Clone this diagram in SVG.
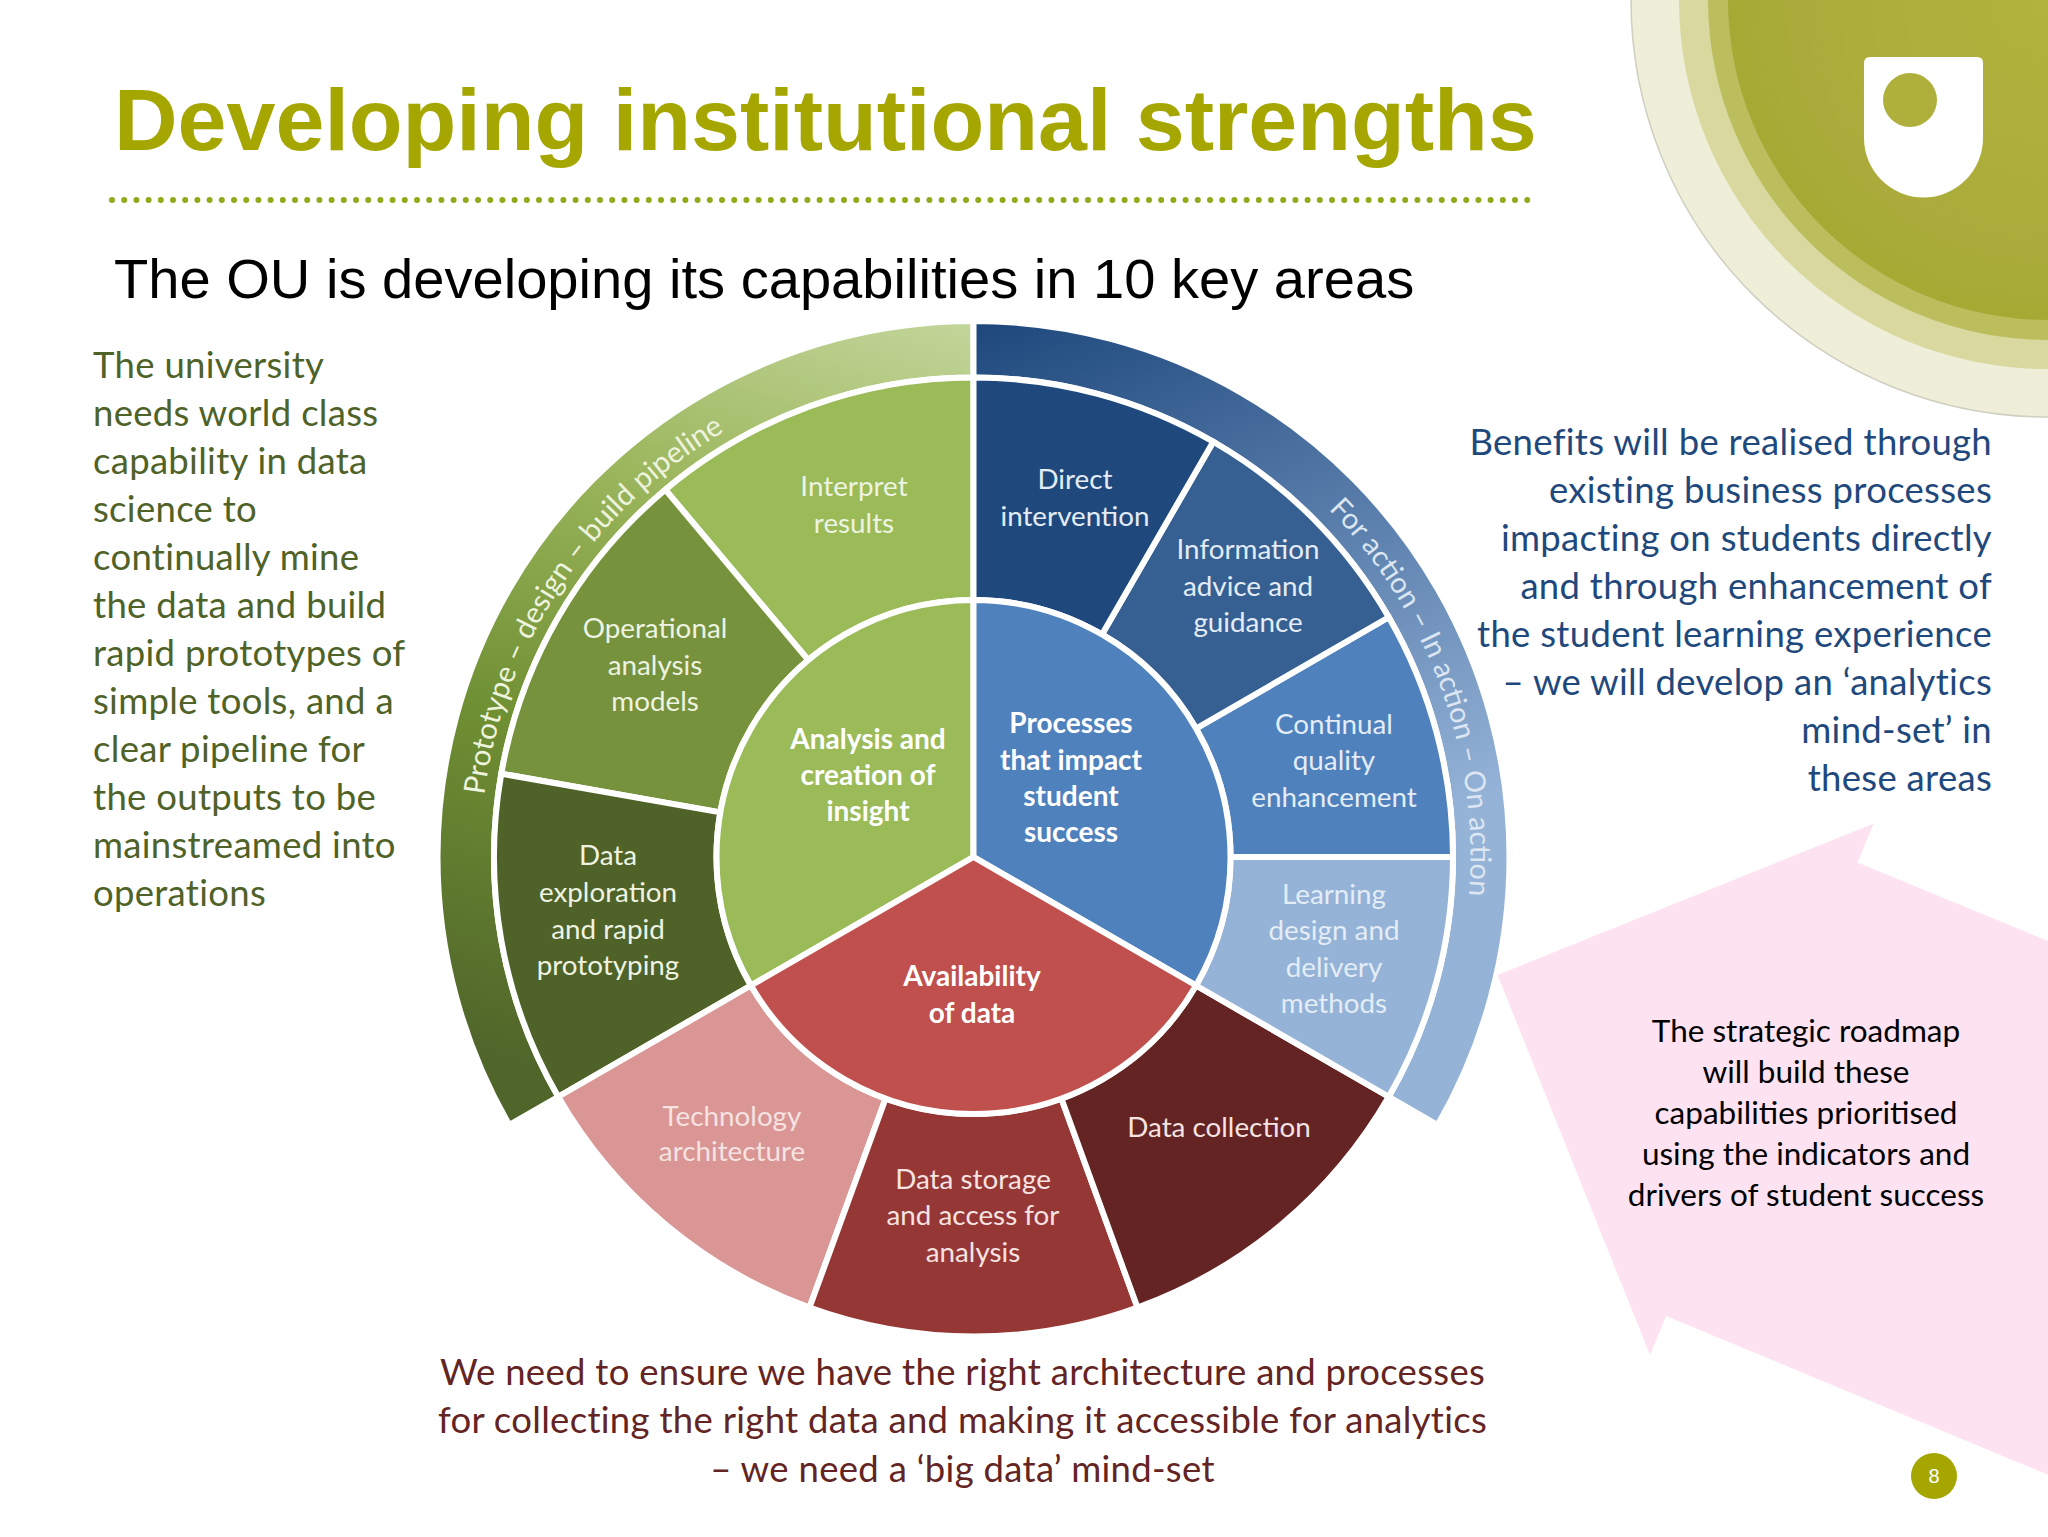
<svg xmlns="http://www.w3.org/2000/svg" xmlns:xlink="http://www.w3.org/1999/xlink" width="2048" height="1537" viewBox="0 0 2048 1537">
<style>
text{font-family:"Lato","Carlito","Open Sans",sans-serif}
.ar{font-family:"Liberation Sans",Arial,sans-serif}
.w{stroke:#fff;stroke-width:6;stroke-linejoin:miter}
.l{font-size:27.800px;text-anchor:middle;fill:#eef3e2}
.lp{fill:#f5e3e2}
.lb{fill:#e4ecf6}
.b{font-size:28px;font-weight:700;text-anchor:middle;fill:#fff}
.para{font-size:36.500px;letter-spacing:.3px}
.green{fill:#4f6228}
.blue{fill:#1f497d;text-anchor:end}
.red{fill:#632423;text-anchor:middle}
.pk{font-size:31.500px;fill:#000;text-anchor:middle}
</style>
<defs>
<linearGradient id="gb" gradientUnits="userSpaceOnUse" x1="973" y1="320" x2="700" y2="1127">
<stop offset="0" stop-color="#c3d69b"/><stop offset=".3" stop-color="#9bb65c"/><stop offset=".62" stop-color="#6f8f33"/><stop offset="1" stop-color="#50652a"/>
</linearGradient>
<linearGradient id="bb" gradientUnits="userSpaceOnUse" x1="1000" y1="320" x2="1350" y2="1127">
<stop offset="0" stop-color="#1f497d"/><stop offset=".4" stop-color="#5f83b0"/><stop offset=".72" stop-color="#95b3d7"/><stop offset="1" stop-color="#95b3d7"/>
</linearGradient>
<radialGradient id="cg" gradientUnits="userSpaceOnUse" cx="2048" cy="0" r="320">
<stop offset="0" stop-color="#b2b33e"/><stop offset=".8" stop-color="#aaab3a"/><stop offset="1" stop-color="#a5aa34"/>
</radialGradient>
<path id="arcL" d="M484.400 795.200A493 493 0 0 1 765.150 410.200"/>
<path id="arcR" d="M1328.500 509.300A497 497 0 0 1 1459.600 960.300"/>
</defs>
<rect width="2048" height="1537" fill="#fff"/>
<g id="logo">
<circle cx="2048" cy="0" r="417" fill="#eeeed9" stroke="#cfcfc0" stroke-width="1.500"/>
<circle cx="2048" cy="0" r="369" fill="#d9d99f"/>
<circle cx="2048" cy="0" r="340" fill="#bcbe5e"/>
<circle cx="2048" cy="0" r="320" fill="url(#cg)"/>
<path d="M1870 57H1977Q1983 57 1983 63V138A59.500 59.500 0 0 1 1864 138V63Q1864 57 1870 57Z" fill="#fff"/>
<circle cx="1910" cy="100" r="27" fill="#afb03c"/>
</g>
<g id="title">
<text class="ar" x="114" y="150" font-size="88" font-weight="700" fill="#a5a700">Developing institutional strengths</text>
<line x1="112" y1="200" x2="1531" y2="200" stroke="#93a91c" stroke-width="6" stroke-linecap="round" stroke-dasharray="0 12.200"/>
<text class="ar" x="114" y="298" font-size="56.100" fill="#000">The OU is developing its capabilities in 10 key areas</text>
</g>
<g id="left-text">
<text class="para green" x="93" y="377.500">The university</text>
<text class="para green" x="93" y="425.500">needs world class</text>
<text class="para green" x="93" y="473.500">capability in data</text>
<text class="para green" x="93" y="521.500">science to</text>
<text class="para green" x="93" y="569.500">continually mine</text>
<text class="para green" x="93" y="617.500">the data and build</text>
<text class="para green" x="93" y="665.500">rapid prototypes of</text>
<text class="para green" x="93" y="713.500">simple tools, and a</text>
<text class="para green" x="93" y="761.500">clear pipeline for</text>
<text class="para green" x="93" y="809.500">the outputs to be</text>
<text class="para green" x="93" y="857.500">mainstreamed into</text>
<text class="para green" x="93" y="905.500">operations</text>
</g>
<g id="right-text">
<text class="para blue" x="1992" y="454.500">Benefits will be realised through</text>
<text class="para blue" x="1992" y="502.500">existing business processes</text>
<text class="para blue" x="1992" y="550.500">impacting on students directly</text>
<text class="para blue" x="1992" y="598.500">and through enhancement of</text>
<text class="para blue" x="1992" y="646.500">the student learning experience</text>
<text class="para blue" x="1992" y="694.500">– we will develop an ‘analytics</text>
<text class="para blue" x="1992" y="742.500">mind-set’ in</text>
<text class="para blue" x="1992" y="790.500">these areas</text>
</g>
<g id="bottom-text">
<text class="para red" x="962.500" y="1384.500">We need to ensure we have the right architecture and processes</text>
<text class="para red" x="962.500" y="1433">for collecting the right data and making it accessible for analytics</text>
<text class="para red" x="962.500" y="1481.500">– we need a ‘big data’ mind-set</text>
</g>
<g id="band-green">
<path class="w" d="M973.500 321A536 536 0 0 0 509.310 1125L558.240 1096.750A479.500 479.500 0 0 1 973.500 377.500Z" fill="url(#gb)"/>
<text font-size="29.600" fill="#eef3dd"><textPath xlink:href="#arcL" href="#arcL">Prototype – design – build pipeline</textPath></text>
</g>
<g id="band-blue">
<path class="w" d="M973.500 321A536 536 0 0 1 1437.690 1125L1388.760 1096.750A479.500 479.500 0 0 0 973.500 377.500Z" fill="url(#bb)"/>
<text font-size="28.800" fill="#dce6f2"><textPath xlink:href="#arcR" href="#arcR">For action – In action – On action</textPath></text>
</g>
<g id="arrow">
<polygon points="1497.500,975 1873.600,823.500 1857.500,862.500 2048,941 2048,1474.700 1666,1316 1650,1355" fill="#fde3f1"/>
<text class="pk" x="1806" y="1042">The strategic roadmap</text>
<text class="pk" x="1806" y="1083">will build these</text>
<text class="pk" x="1806" y="1123.500">capabilities prioritised</text>
<text class="pk" x="1806" y="1164.500">using the indicators and</text>
<text class="pk" x="1806" y="1205.500">drivers of student success</text>
</g>
<g id="interpret">
<path class="w" d="M973.500 377.500A479.500 479.500 0 0 0 665.280 489.680L808.300 660.130A257 257 0 0 1 973.500 600Z" fill="#9bbb59"/>
<text class="l" x="854" y="496">Interpret</text><text class="l" x="854" y="533">results</text>
</g>
<g id="operational">
<path class="w" d="M665.280 489.680A479.500 479.500 0 0 0 501.280 773.730L720.400 812.370A257 257 0 0 1 808.300 660.130Z" fill="#76923c"/>
<text class="l" x="655" y="638">Operational</text><text class="l" x="655" y="675">analysis</text><text class="l" x="655" y="711">models</text>
</g>
<g id="exploration">
<path class="w" d="M501.280 773.730A479.500 479.500 0 0 0 558.240 1096.750L750.930 985.500A257 257 0 0 1 720.400 812.370Z" fill="#4f6228"/>
<text class="l" x="608" y="865">Data</text><text class="l" x="608" y="902">exploration</text><text class="l" x="608" y="939">and rapid</text><text class="l" x="608" y="975">prototyping</text>
</g>
<g id="technology">
<path class="w" d="M558.240 1096.750A479.500 479.500 0 0 0 809.500 1307.580L885.600 1098.500A257 257 0 0 1 750.930 985.500Z" fill="#d99694"/>
<text class="l lp" x="732" y="1126">Technology</text><text class="l lp" x="732" y="1161">architecture</text>
</g>
<g id="storage">
<path class="w" d="M809.500 1307.580A479.500 479.500 0 0 0 1137.500 1307.580L1061.400 1098.500A257 257 0 0 1 885.600 1098.500Z" fill="#953735"/>
<text class="l lp" x="973" y="1189">Data storage</text><text class="l lp" x="973" y="1225">and access for</text><text class="l lp" x="973" y="1262">analysis</text>
</g>
<g id="collection">
<path class="w" d="M1137.500 1307.580A479.500 479.500 0 0 0 1388.760 1096.750L1196.070 985.500A257 257 0 0 1 1061.400 1098.500Z" fill="#632423"/>
<text class="l lp" x="1219" y="1137">Data collection</text>
</g>
<g id="learning">
<path class="w" d="M1388.760 1096.750A479.500 479.500 0 0 0 1453 857H1230.500A257 257 0 0 1 1196.070 985.500Z" fill="#95b3d7"/>
<text class="l lb" x="1334" y="904">Learning</text><text class="l lb" x="1334" y="940">design and</text><text class="l lb" x="1334" y="977">delivery</text><text class="l lb" x="1334" y="1013">methods</text>
</g>
<g id="continual">
<path class="w" d="M1453 857A479.500 479.500 0 0 0 1388.760 617.250L1196.070 728.500A257 257 0 0 1 1230.500 857Z" fill="#4f81bd"/>
<text class="l lb" x="1334" y="734">Continual</text><text class="l lb" x="1334" y="770">quality</text><text class="l lb" x="1334" y="807">enhancement</text>
</g>
<g id="information">
<path class="w" d="M1388.760 617.250A479.500 479.500 0 0 0 1213.250 441.740L1102 634.430A257 257 0 0 1 1196.070 728.500Z" fill="#376092"/>
<text class="l lb" x="1248" y="559">Information</text><text class="l lb" x="1248" y="596">advice and</text><text class="l lb" x="1248" y="632">guidance</text>
</g>
<g id="direct">
<path class="w" d="M1213.250 441.740A479.500 479.500 0 0 0 973.500 377.500V600A257 257 0 0 1 1102 634.430Z" fill="#1f497d"/>
<text class="l lb" x="1075" y="489">Direct</text><text class="l lb" x="1075" y="526">intervention</text>
</g>
<g id="hub-analysis">
<path class="w" d="M973.500 857L750.930 985.500A257 257 0 0 1 973.500 600Z" fill="#9bbb59"/>
<text class="b" x="868" y="749">Analysis and</text><text class="b" x="868" y="785">creation of</text><text class="b" x="868" y="821">insight</text>
</g>
<g id="hub-processes">
<path class="w" d="M973.500 857V600A257 257 0 0 1 1196.070 985.500Z" fill="#4f81bd"/>
<text class="b" x="1071" y="733">Processes</text><text class="b" x="1071" y="770">that impact</text><text class="b" x="1071" y="806">student</text><text class="b" x="1071" y="842">success</text>
</g>
<g id="hub-data">
<path class="w" d="M973.500 857L1196.070 985.500A257 257 0 0 1 750.930 985.500Z" fill="#c0504d"/>
<text class="b" x="972" y="986">Availability</text><text class="b" x="972" y="1023">of data</text>
</g>
<g id="page-number">
<circle cx="1934" cy="1476" r="23" fill="#a5a700"/>
<text class="ar" x="1934" y="1483" font-size="20" fill="#fff" text-anchor="middle">8</text>
</g>
</svg>
